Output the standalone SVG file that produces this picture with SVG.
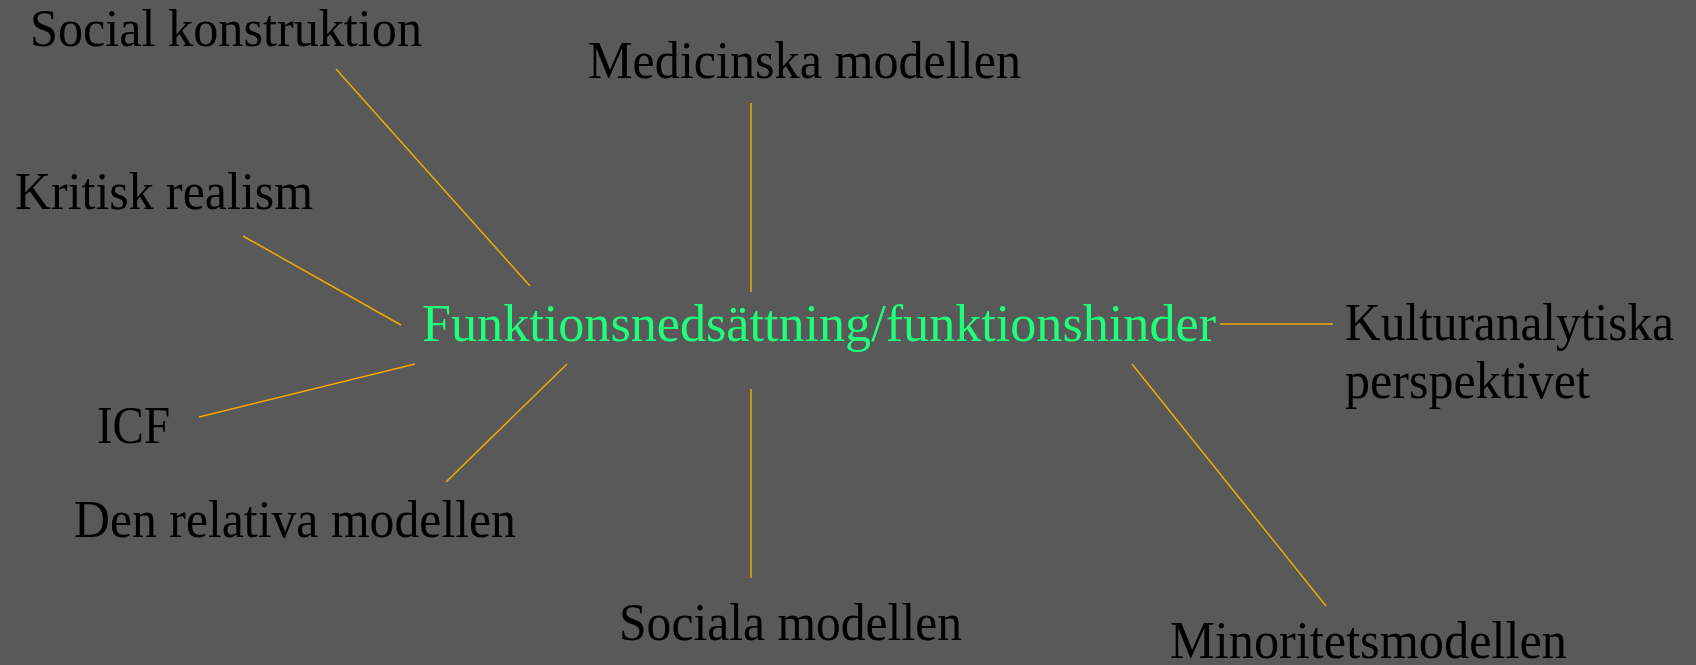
<svg xmlns="http://www.w3.org/2000/svg" width="1696" height="665" viewBox="0 0 1696 665">
<style>
.t{font-family:"Liberation Serif","DejaVu Serif",serif;font-size:52px;fill:#000}
.c{font-family:"Liberation Serif","DejaVu Serif",serif;font-size:52px;fill:#1eff7a}
.l{stroke:#f5a800;stroke-width:1.5;fill:none}
</style>
<rect width="1696" height="665" fill="#595959"/>
<g id="connectors">
<line class="l" x1="336" y1="69" x2="530" y2="286"/>
<line class="l" x1="243" y1="236" x2="401" y2="325"/>
<line class="l" x1="199" y1="417" x2="415" y2="364"/>
<line class="l" x1="446" y1="482" x2="567" y2="364"/>
<line class="l" x1="751" y1="103" x2="751" y2="292"/>
<line class="l" x1="751" y1="389" x2="751" y2="578"/>
<line class="l" x1="1220" y1="324" x2="1333" y2="324"/>
<line class="l" x1="1132" y1="364" x2="1326" y2="606"/>
</g>
<g id="center"><text class="c" x="422" y="341" textLength="794" lengthAdjust="spacingAndGlyphs">Funktionsnedsättning/funktionshinder</text></g>
<g id="social-konstruktion"><text class="t" x="30" y="46" textLength="392" lengthAdjust="spacingAndGlyphs">Social konstruktion</text></g>
<g id="medicinska"><text class="t" x="588" y="78" textLength="433" lengthAdjust="spacingAndGlyphs">Medicinska modellen</text></g>
<g id="kritisk"><text class="t" x="15" y="209" textLength="298" lengthAdjust="spacingAndGlyphs">Kritisk realism</text></g>
<g id="kultur"><text class="t" x="1345" y="340" textLength="329" lengthAdjust="spacingAndGlyphs">Kulturanalytiska</text><text class="t" x="1345" y="398" textLength="245" lengthAdjust="spacingAndGlyphs">perspektivet</text></g>
<g id="icf"><text class="t" x="97" y="443" textLength="73" lengthAdjust="spacingAndGlyphs">ICF</text></g>
<g id="relativa"><text class="t" x="74" y="537" textLength="442" lengthAdjust="spacingAndGlyphs">Den relativa modellen</text></g>
<g id="sociala"><text class="t" x="619" y="640" textLength="343" lengthAdjust="spacingAndGlyphs">Sociala modellen</text></g>
<g id="minoritet"><text class="t" x="1170" y="658" textLength="397" lengthAdjust="spacingAndGlyphs">Minoritetsmodellen</text></g>
</svg>
